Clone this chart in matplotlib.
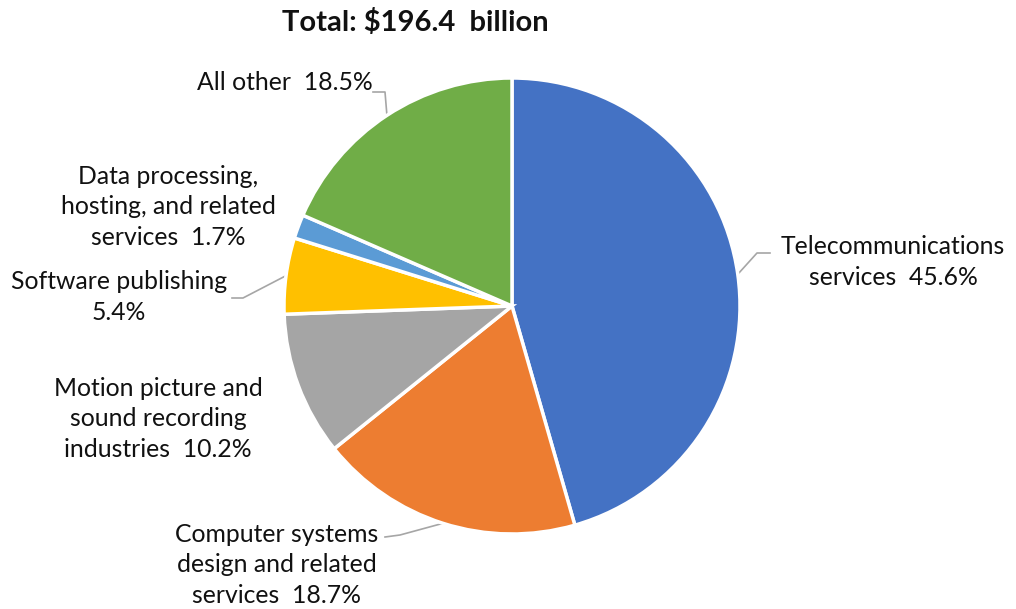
import numpy as np
import matplotlib.pyplot as plt

# Information sector revenue shares (percent)
sectors = [
    "Telecommunications\nservices  45.6%",
    "Computer systems\ndesign and related\nservices  18.7%",
    "Motion picture and\nsound recording\nindustries  10.2%",
    "Software publishing\n5.4%",
    "Data processing,\nhosting, and related\nservices  1.7%",
    "All other  18.5%",
]
shares = [45.6, 18.7, 10.2, 5.4, 1.7, 18.5]
colors = ["#4472C4", "#ED7D31", "#A5A5A5", "#FFC000", "#5B9BD5", "#70AD47"]
title = r"Total: \$196.4  billion"

plt.rcParams['font.family'] = ['Lato', 'DejaVu Sans']

W, H = 1016, 609
fig = plt.figure(figsize=(W / 100, H / 100), dpi=100)
ax = fig.add_axes([0, 0, 1, 1])

cx, cy, r = 512, H - 306, 228
wedges, _ = ax.pie(shares, colors=colors, startangle=90, counterclock=False,
                   center=(cx, cy), radius=r, frame=True,
                   wedgeprops=dict(edgecolor='white', linewidth=2.5))
ax.set_xlim(0, W)
ax.set_ylim(0, H)
ax.set_aspect('equal')
ax.axis('off')

# label centres (pixel coords, y from top) and leader paths (None = no leader)
label_pos = [(893, 262), (277, 565), (158, 419), (119, 297), (168, 207), (285, 83)]
leaders = [
    [(757, 253), (770, 253)],
    [(400, 535), (385, 537)],
    None,
    [(243, 298), (232, 298)],
    None,
    [(385, 92), (373, 92)],
]

for w, txt, (lx, ly), path in zip(wedges, sectors, label_pos, leaders):
    ax.text(lx, H - ly, txt, ha='center', va='center', fontsize=17.8,
            color='#111111', linespacing=1.4)
    if path is None:
        continue
    mid = np.deg2rad((w.theta1 + w.theta2) / 2)
    px = cx + r * np.cos(mid)
    py = cy + r * np.sin(mid)
    xs = [px] + [p[0] for p in path]
    ys = [py] + [H - p[1] for p in path]
    ax.plot(xs, ys, color='#A6A6A6', lw=1.2, zorder=0.5)

ax.text(415, H - 22, title, ha='center', va='center', fontsize=21,
        fontweight='bold', color='#111111')

fig.savefig("out.png", dpi=100)
